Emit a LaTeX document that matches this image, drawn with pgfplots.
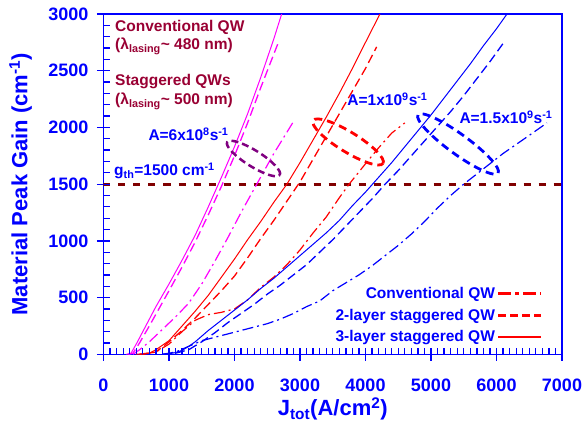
\documentclass[border=0pt]{standalone}
\usepackage{pgfplots}
\pgfplotsset{compat=1.18}
\usepackage{fontspec}
\setmainfont{Liberation Sans}
\usetikzlibrary{shapes.geometric}
\definecolor{dred}{RGB}{153,0,51}
\definecolor{mline}{RGB}{128,0,0}
\definecolor{purp}{RGB}{128,0,128}
\definecolor{bl}{RGB}{0,0,255}
\definecolor{mag}{RGB}{255,0,255}
\tikzset{
  dsh/.style={dash pattern=on 9pt off 4.5pt, line width=1.3pt},
  dd/.style={dash pattern=on 11pt off 4pt on 2pt off 4pt, line width=1.2pt},
  sol/.style={solid, line width=1pt},
  tk/.style={draw=bl, line width=1.3pt},
}
\begin{document}
\begin{tikzpicture}
\begin{axis}[
  scale only axis, width=458.5pt, height=340.3pt,
  xmin=0, xmax=7000, ymin=0, ymax=3000,
  axis line style={bl, line width=1.3pt},
  xtick={0,1000,2000,3000,4000,5000,6000,7000}, ytick={0,500,1000,1500,2000,2500,3000},
  tick pos=left,
  tick align=outside,
  major tick length=6.5pt,
  every major tick/.append style={bl, line width=1.3pt},
  scaled ticks=false,
  /pgf/number format/assume math mode=true,
  /pgf/number format/1000 sep={},
  ticklabel style={font=\bfseries\fontsize{18}{20}\selectfont, text=bl},
  xticklabel style={yshift=-15pt},
  yticklabel style={xshift=-5pt},
  xlabel={J\textsubscript{tot}(A/cm\textsuperscript{2})},
  ylabel={Material Peak Gain (cm\textsuperscript{-1})},
  label style={font=\bfseries\fontsize{22}{24}\selectfont, text=bl},
  xlabel style={at={(axis description cs:0.5,-0.181)}, anchor=base},
  ylabel style={at={(axis description cs:-0.166,0.5)}, anchor=base},
  legend style={at={(axis description cs:0.965,0.02)}, anchor=south east, draw=none, fill=none,
    font=\bfseries\fontsize{15.5}{17}\selectfont, text=bl, row sep=5pt},
  legend cell align=right, legend plot pos=right,
  legend image code/.code={\draw[#1] (0pt,0pt) -- (43pt,0pt);},
]
\addlegendimage{red, dash pattern=on 13pt off 4pt on 4pt off 4pt, line width=2.8pt}
\addlegendentry{Conventional QW}
\addlegendimage{red, dash pattern=on 8pt off 4pt, line width=2.8pt}
\addlegendentry{2-layer staggered QW}
\addlegendimage{red, solid, line width=1.6pt}
\addlegendentry{3-layer staggered QW}

% threshold
\addplot[mline, dash pattern=on 7pt off 8pt, line width=2.7pt, forget plot] coordinates {(0,1500) (7000,1500)};

% A = 6e8 (magenta)
\addplot[mag, sol, forget plot] coordinates {(350,0)(420,10)(500,90)(600,200)(800,420)(1000,620)(1200,830)(1400,1050)(1600,1300)(1800,1560)(2000,1830)(2200,2120)(2400,2440)(2600,2780)(2720,3000)};
\addplot[mag, dsh, forget plot] coordinates {(380,0)(450,10)(550,100)(700,250)(1000,560)(1200,770)(1400,990)(1600,1230)(1800,1480)(2000,1750)(2200,2040)(2400,2350)(2670,2750)};
\addplot[mag, dd, forget plot] coordinates {(450,0)(550,40)(700,110)(900,220)(1100,330)(1300,450)(1500,620)(1700,820)(1900,1030)(2100,1250)(2340,1500)(2600,1770)(2920,2070)};

% A = 1e9 (red)
\addplot[red, sol, forget plot] coordinates {(500,0)(700,10)(800,40)(1000,120)(1200,250)(1400,380)(1600,520)(1800,680)(2000,840)(2200,1010)(2400,1170)(2600,1340)(2800,1500)(3000,1690)(3200,1890)(3400,2090)(3600,2300)(3800,2520)(4000,2750)(4220,3000)};
\addplot[red, dsh, forget plot] coordinates {(550,0)(800,20)(1000,110)(1200,210)(1400,320)(1600,440)(1800,560)(2000,690)(2200,850)(2400,1020)(2600,1180)(2800,1350)(3000,1520)(3200,1720)(3400,1920)(3600,2120)(3800,2320)(4000,2520)(4170,2710)};
\addplot[red, dd, forget plot] coordinates {(600,0)(800,20)(1000,90)(1200,200)(1400,300)(1600,350)(1800,370)(2000,400)(2200,480)(2400,590)(2600,680)(2800,790)(3000,920)(3200,1070)(3400,1210)(3600,1380)(3750,1500)(4000,1680)(4200,1820)(4400,1950)(4600,2040)};

% A = 1.5e9 (blue)
\addplot[bl, sol, forget plot] coordinates {(900,0)(1000,5)(1100,15)(1200,35)(1300,70)(1400,110)(1600,210)(1800,300)(2000,390)(2200,480)(2400,580)(2600,670)(2800,770)(3000,870)(3200,970)(3400,1070)(3600,1180)(3800,1310)(4000,1430)(4200,1560)(4400,1690)(4600,1830)(4800,1970)(5000,2110)(5200,2260)(5400,2410)(5600,2560)(5800,2720)(6000,2870)(6160,3000)};
\addplot[bl, dsh, forget plot] coordinates {(900,0)(1100,10)(1300,40)(1500,110)(1700,190)(1900,280)(2100,360)(2300,440)(2500,530)(2700,610)(2900,700)(3100,790)(3300,900)(3500,1010)(3700,1130)(3900,1250)(4100,1370)(4300,1500)(4500,1620)(4700,1750)(4900,1880)(5100,2010)(5300,2140)(5500,2280)(5700,2430)(5900,2580)(6100,2740)};
\addplot[bl, dd, forget plot] coordinates {(900,0)(1100,20)(1300,70)(1500,120)(1700,150)(1900,180)(2100,210)(2300,240)(2500,270)(2700,310)(2900,360)(3100,420)(3300,470)(3500,560)(3700,630)(3900,700)(4100,780)(4300,870)(4500,960)(4700,1060)(4900,1170)(5100,1290)(5300,1400)(5500,1500)(5700,1590)(5900,1680)(6100,1770)(6300,1850)(6500,1930)(6770,2040)};

% ellipses
\node[draw=purp, dash pattern=on 7pt off 4pt, line width=2.5pt, ellipse, minimum width=62pt, minimum height=16pt, inner sep=0pt, rotate=-32] at (axis cs:2290,1726) {};
\node[draw=red, dash pattern=on 8pt off 5pt, line width=2.8pt, ellipse, minimum width=82pt, minimum height=20pt, inner sep=0pt, rotate=-31.5] at (axis cs:3734,1872) {};
\node[draw=bl, dash pattern=on 8pt off 5pt, line width=2.8pt, ellipse, minimum width=99pt, minimum height=20pt, inner sep=0pt, rotate=-36] at (axis cs:5413,1854) {};

% annotations
\begin{scope}[every node/.style={inner sep=0pt, anchor=base west, font=\bfseries\fontsize{15.5}{17}\selectfont}]
\node[text=dred] at (axis cs:176,2844) {Conventional QW};
\node[text=dred] at (axis cs:176,2683) {(λ\textsubscript{lasing}\textasciitilde\ 480 nm)};
\node[text=dred] at (axis cs:176,2366) {Staggered QWs};
\node[text=dred] at (axis cs:176,2204) {(λ\textsubscript{lasing}\textasciitilde\ 500 nm)};
\node[text=bl] at (axis cs:684,1883) {A=6x10\textsuperscript{8}s\textsuperscript{-1}};
\node[text=bl] at (axis cs:160,1574) {g\textsubscript{th}=1500 cm\textsuperscript{-1}};
\node[text=bl] at (axis cs:3722,2192) {A=1x10\textsuperscript{9}s\textsuperscript{-1}};
\node[text=bl] at (axis cs:5432,2036) {A=1.5x10\textsuperscript{9}s\textsuperscript{-1}};
\end{scope}
\end{axis}
% minor ticks, inside the axis box
\foreach \i in {0,...,70} {\draw[tk] (current axis.south west) ++(\i*6.55pt,0pt) -- ++(0pt,6pt);}
\foreach \i in {0,...,30} {\draw[tk] (current axis.south west) ++(0pt,\i*11.343pt) -- ++(6pt,0pt);}
\pgfresetboundingbox
\path[use as bounding box] (current axis.south west) ++(-103.5pt,-71.7pt) rectangle ++(583pt,426pt);
\end{tikzpicture}
\end{document}
